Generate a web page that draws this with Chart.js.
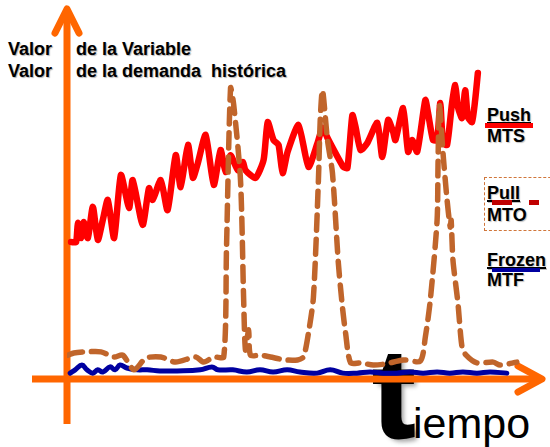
<!DOCTYPE html>
<html lang="es">
<head>
<meta charset="UTF-8">
<title>Valor de la demanda histórica</title>
<script src="https://cdn.jsdelivr.net/npm/chart.js"></script>
<style>
    body { margin: 0; padding: 0; background: #fff; font-family: 'Liberation Sans', Arial, sans-serif; }
    .wrap { position: relative; width: 550px; height: 447px; overflow: hidden; }
    .wrap canvas { position: absolute; left: 0; top: 0; z-index: 2; }
    .txt { position: absolute; white-space: nowrap; z-index: 1; color: #000; }
    .title { font-size: 18px; font-weight: bold; line-height: 22px; text-shadow: 1px 1px 1px rgba(0,0,0,0.3); }
    .lbl { font-size: 18px; font-weight: bold; line-height: 21px; text-shadow: 1px 1px 1px rgba(0,0,0,0.25); }
    .lbl u { text-decoration-thickness: 1.5px; text-underline-offset: 1px; }
    .bar { position: absolute; z-index: 1; }
    .pullBox { position: absolute; left: 484px; top: 177px; width: 80px; height: 52px; border: 1.5px dashed #d0763a; z-index: 0; }
    .bigT { font-size: 125px; font-weight: bold; line-height: 125px; -webkit-text-stroke: 3px #000; text-shadow: 4px 4px 4px rgba(0,0,0,0.35); }
    .iempo { font-size: 43px; line-height: 43px; }
</style>
</head>
<body>
<div class="wrap">
    <div class="txt title" style="left:8px; top:38px;">Valor</div>
    <div class="txt title" style="left:76px; top:38px;">de la Variable</div>
    <div class="txt title" style="left:8px; top:60px;">Valor</div>
    <div class="txt title" style="left:76px; top:60px;">de la demanda&nbsp; histórica</div>

    <div class="txt lbl" style="left:487px; top:105px;"><u>Push</u></div>
    <div class="bar" style="left:485px; top:123px; width:48px; height:5px; background:#ff0000;"></div>
    <div class="txt lbl" style="left:487px; top:126px;">MTS</div>

    <div class="pullBox"></div>
    <div class="txt lbl" style="left:487px; top:183px;"><u>Pull</u></div>
    <div class="bar" style="left:492px; top:200px; width:20px; height:5px; background:#c00000;"></div>
    <div class="bar" style="left:529px; top:200px; width:10px; height:5px; background:#c00000;"></div>
    <div class="txt lbl" style="left:487px; top:205px;">MTO</div>

    <div class="txt lbl" style="left:487px; top:250px;"><u>Frozen</u></div>
    <div class="bar" style="left:492px; top:268px; width:48px; height:4px; background:#0000a0;"></div>
    <div class="txt lbl" style="left:487px; top:270px;">MTF</div>

    <div class="txt bigT" style="left:373px; top:331px;">t</div>
    <div class="txt iempo" style="left:413px; top:402px;">iempo</div>

    <canvas id="demandChart"></canvas>
</div>

<script>
// Push (MTS): noisy, rising demand
const pushT = [0.9,2.0,2.4,3.1,3.7,4.6,5.7,6.8,7.9,9.0,10.4,11.9,13.7,14.5,16.7,18.1,18.9,20.7,22.2,24.0,
    25.1,26.7,27.8,28.9,30.6,32.4,33.9,35.0,36.1,37.7,38.8,39.4,41.6,43.4,44.3,45.6,46.7,47.6,48.7,51.1,
    53.3,55.3,56.4,57.5,61.0,61.9,63.0,63.7,64.8,66.3,68.5,69.6,70.9,72.0,72.5,74.2,75.3,76.2,77.3,79.1,
    79.7,80.8,81.7,82.4,83.0,83.9,85.0,85.7,86.3,87.2,87.9,88.5,89.4,90.1,90.7];
const pushV = [37.3,37.3,42.5,38.4,42.8,38.4,46.9,37.9,43.3,48.8,38.4,55.6,46.6,54.2,42.0,52.0,48.8,54.2,46.0,61.0,
    52.3,63.8,54.8,58.9,66.5,52.9,62.4,56.4,61.0,56.9,59.1,56.9,54.8,59.7,70.0,65.1,63.8,56.1,61.9,69.2,
    57.8,64.3,68.4,65.7,57.8,57.5,71.9,68.7,62.4,64.3,69.8,60.5,70.6,67.3,65.1,73.8,61.9,65.1,61.9,76.0,
    72.5,65.1,65.1,75.2,64.3,63.8,75.2,80.1,74.1,71.1,78.7,71.4,70.0,76.0,83.4];

// Pull (MTO): low base with three order peaks
const pullT = [0.2,1.5,4.2,7.5,10.4,12.3,14.8,17.4,20.7,24.0,28.4,30.2,32.4,34.6,35.2,36.1,36.8,38.3,39.0,39.4,
    40.1,40.5,42.7,44.9,48.2,50.9,52.2,53.3,54.4,55.5,55.9,56.4,57.5,58.6,59.9,60.8,61.5,62.6,64.8,67.6,
    70.3,74.2,78.0,79.1,80.2,81.7,81.9,82.2,83.0,83.9,84.6,84.8,85.2,86.3,87.2,88.1,90.5,94.1,95.6,99.3];
const pullV = [6.5,7.1,7.4,7.4,6.0,6.5,2.5,5.7,6.0,4.6,6.0,4.6,6.0,6.0,35.1,79.3,74.7,54.2,21.5,7.9,
    13.4,6.5,6.5,6.0,5.2,5.2,6.0,12.5,22.3,54.2,70.6,78.7,65.1,56.1,31.6,19.6,12.5,4.4,4.4,3.8,
    4.1,5.2,4.9,11.4,21.5,43.3,58.3,74.7,61.6,48.8,41.4,43.3,32.4,20.7,8.7,6.5,4.4,4.6,3.8,4.6];

// Frozen (MTF): almost flat near zero
const frozenT = [0.7,1.8,3.3,4.4,5.7,6.8,7.9,9.5,10.6,11.7,13.2,15.5,17.7,20.5,24.3,29.4,32.0,33.3,36.6,39.7,
    42.6,45.5,48.6,51.4,55.2,58.1,60.9,64.0,66.9,69.8,72.8,75.7,78.6,81.7,84.5,87.4,90.5,93.4,97.1];
const frozenV = [1.6,2.5,3.8,2.5,1.6,2.5,1.9,3.3,2.5,3.8,3.0,2.5,2.5,2.2,2.2,2.5,3.3,2.5,2.5,1.9,
    2.5,1.9,2.5,1.9,1.6,2.5,1.6,1.6,1.9,1.6,1.6,1.9,1.6,1.9,1.6,1.9,1.6,1.9,1.6];

function toPoints(ts, vs) {
    return ts.map((t, i) => ({ x: t, y: vs[i] }));
}

// orange hand-drawn style axes with arrow heads
const arrowAxes = {
    id: 'arrowAxes',
    beforeDatasetsDraw(chart) {
        const { ctx, chartArea: a, scales } = chart;
        const x0 = scales.x.getPixelForValue(0);
        const y0 = scales.y.getPixelForValue(0);
        ctx.save();
        ctx.strokeStyle = '#ff6600';
        ctx.lineWidth = 7;
        ctx.lineCap = 'butt';
        ctx.beginPath();
        ctx.moveTo(x0, y0 + 45);
        ctx.lineTo(x0, a.top - 2);
        ctx.moveTo(x0 - 35, y0);
        ctx.lineTo(a.right + 20, y0);
        ctx.stroke();
        ctx.lineCap = 'round';
        ctx.lineJoin = 'round';
        ctx.beginPath();
        ctx.moveTo(x0 - 12, a.top + 21);
        ctx.lineTo(x0, a.top - 3);
        ctx.lineTo(x0 + 12, a.top + 21);
        ctx.moveTo(a.right - 2, y0 - 13);
        ctx.lineTo(a.right + 22, y0);
        ctx.lineTo(a.right - 2, y0 + 13);
        ctx.stroke();
        ctx.restore();
    }
};

new Chart(document.getElementById('demandChart'), {
    type: 'line',
    data: {
        datasets: [{
            label: 'Pull MTO',
            data: toPoints(pullT, pullV),
            borderColor: '#c0652b',
            borderWidth: 5.5,
            borderDash: [15, 9],
            tension: 0.25,
            order: 1
        }, {
            label: 'Frozen MTF',
            data: toPoints(frozenT, frozenV),
            borderColor: '#0000a0',
            borderWidth: 5,
            tension: 0.4,
            order: 2
        }, {
            label: 'Push MTS',
            data: toPoints(pushT, pushV),
            borderColor: '#ff0000',
            borderWidth: 6.5,
            tension: 0.2,
            order: 3
        }]
    },
    options: {
        responsive: true,
        maintainAspectRatio: false,
        animation: false,
        devicePixelRatio: 1,
        layout: { padding: { left: 67, right: 30, top: 12, bottom: 68 } },
        elements: {
            point: { radius: 0 },
            line: { borderJoinStyle: 'round', borderCapStyle: 'round', fill: false }
        },
        scales: {
            x: { type: 'linear', min: 0, max: 100, display: false },
            y: { min: 0, max: 100, display: false }
        },
        plugins: {
            legend: { display: false },
            tooltip: { enabled: false }
        }
    },
    plugins: [arrowAxes]
});
</script>
</body>
</html>
